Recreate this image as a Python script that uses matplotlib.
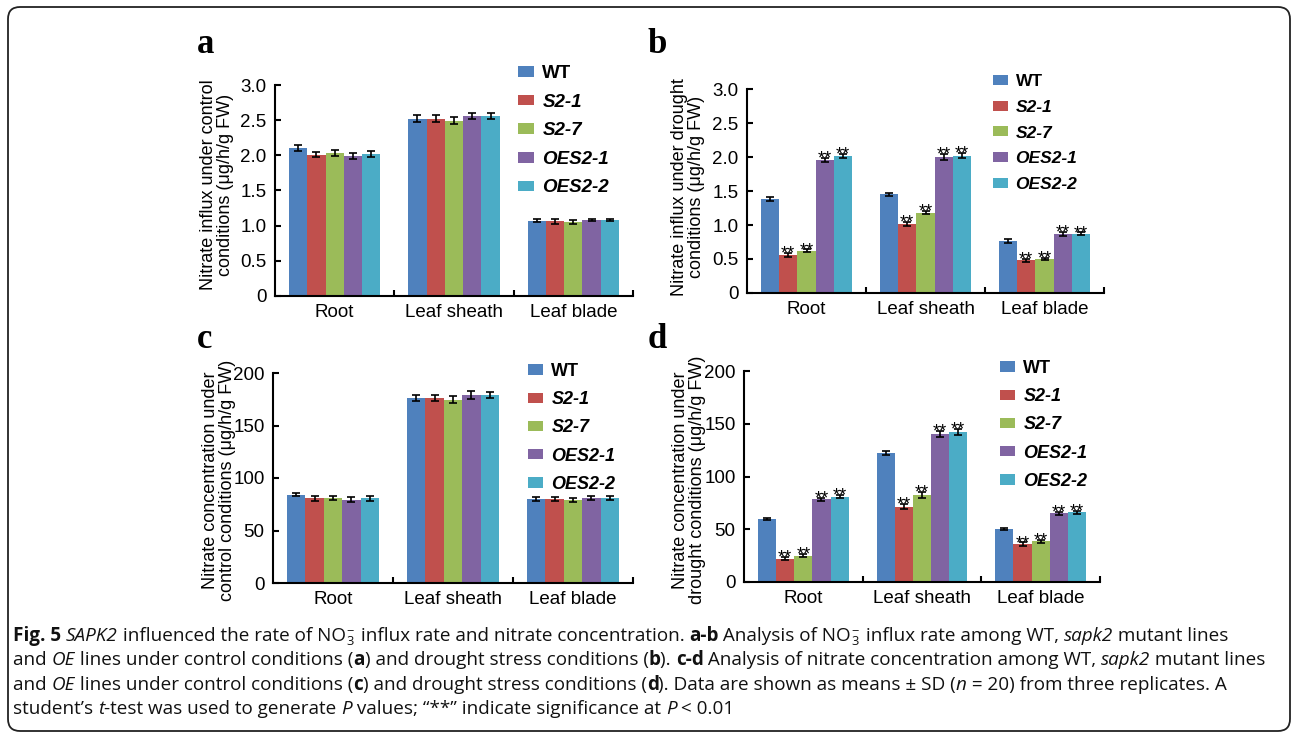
import numpy as np
import matplotlib
matplotlib.use('Agg')
import matplotlib.pyplot as plt
from matplotlib import patches, transforms
from matplotlib.ticker import FuncFormatter

plt.rcParams['font.family'] = ['Liberation Sans', 'DejaVu Sans']

# ---- data ----
tissues = ['Root', 'Leaf sheath', 'Leaf blade']
lines = ['WT', 'S2-1', 'S2-7', 'OES2-1', 'OES2-2']
bar_colors = ['#4F81BD', '#C0504D', '#9BBB59', '#8064A2', '#4BACC6']

# rows = lines, cols = tissues
influx_ctrl = [[2.10, 2.52, 1.07],
               [2.01, 2.52, 1.06],
               [2.03, 2.49, 1.05],
               [1.99, 2.56, 1.08],
               [2.02, 2.56, 1.08]]
influx_ctrl_sd = [[0.04, 0.05, 0.02],
                  [0.04, 0.05, 0.03],
                  [0.04, 0.05, 0.03],
                  [0.04, 0.04, 0.02],
                  [0.04, 0.04, 0.02]]

influx_drought = [[1.38, 1.45, 0.77],
                  [0.56, 1.02, 0.48],
                  [0.62, 1.18, 0.50],
                  [1.96, 2.00, 0.87],
                  [2.02, 2.02, 0.87]]
influx_drought_sd = [[0.03, 0.02, 0.03],
                     [0.03, 0.03, 0.02],
                     [0.02, 0.02, 0.01],
                     [0.03, 0.04, 0.03],
                     [0.03, 0.04, 0.02]]

conc_ctrl = [[84, 176, 80],
             [80.5, 176, 80],
             [81, 174.5, 79],
             [79.5, 179, 81],
             [80.5, 179, 81]]
conc_ctrl_sd = [[1.5, 3, 1.5],
                [2, 3, 1.5],
                [2, 3.5, 2],
                [2, 3.5, 2],
                [2, 3, 2]]

conc_drought = [[59.5, 122.5, 50.5],
                [22, 71.5, 36],
                [25, 82.5, 38.5],
                [78.5, 140.5, 65],
                [81, 142, 66]]
conc_drought_sd = [[1, 2, 1],
                   [1.5, 2.5, 1.5],
                   [1.5, 2.5, 1.5],
                   [1.5, 3, 1.5],
                   [1.5, 3, 1.5]]

sig_none = [False] * 5
sig_mut = [False, True, True, True, True]

ylabels = ['Nitrate influx under control\nconditions (\u03bcg/h/g FW)',
           'Nitrate influx under drought\nconditions (\u03bcg/h/g FW)',
           'Nitrate concentration under\ncontrol conditions (\u03bcg/h/g FW)',
           'Nitrate concentration under\ndrought conditions (\u03bcg/h/g FW)']

# caption: (text, style) with style '' regular, 'b' bold, 'i' italic, 'ion' for the NO3- sub/sup
caption = [
    [('Fig. 5', 'b'), (' ', ''), ('SAPK2', 'i'), (' influenced the rate of NO', ''), ('', 'ion'),
     (' influx rate and nitrate concentration. ', ''), ('a-b', 'b'), (' Analysis of NO', ''), ('', 'ion'),
     (' influx rate among WT, ', ''), ('sapk2', 'i'), (' mutant lines', '')],
    [('and ', ''), ('OE', 'i'), (' lines under control conditions (', ''), ('a', 'b'),
     (') and drought stress conditions (', ''), ('b', 'b'), ('). ', ''), ('c-d', 'b'),
     (' Analysis of nitrate concentration among WT, ', ''), ('sapk2', 'i'), (' mutant lines', '')],
    [('and ', ''), ('OE', 'i'), (' lines under control conditions (', ''), ('c', 'b'),
     (') and drought stress conditions (', ''), ('d', 'b'), ('). Data are shown as means \u00b1 SD (', ''),
     ('n', 'i'), (' = 20) from three replicates. A', '')],
    [('student\u2019s ', ''), ('t', 'i'), ('-test was used to generate ', ''), ('P', 'i'),
     (' values; \u201c**\u201d indicate significance at ', ''), ('P', 'i'), (' < 0.01', '')],
]

W, H = 1292, 734
fig = plt.figure(figsize=(W / 100, H / 100), dpi=100)


def px_axes(left, top, right, bottom):
    return fig.add_axes([left / W, (H - bottom) / H, (right - left) / W, (bottom - top) / H])


def fmt(v, pos):
    if v == 0:
        return '0'
    if v < 10:
        return '%.1f' % v
    return '%d' % v


def draw_panel(ax, vals, sds, ymax, step, stars):
    n = len(lines)
    x = np.arange(len(tissues))
    w = 0.153
    for i in range(n):
        pos = x + (i - (n - 1) / 2) * w
        ax.bar(pos, vals[i], w, color=bar_colors[i], label=lines[i], yerr=sds[i],
               capsize=3, error_kw=dict(elinewidth=1.2, capthick=1.2, ecolor='black'), zorder=2)
        if stars[i]:
            for p, v, e in zip(pos, vals[i], sds[i]):
                ax.annotate('**', (p, v + e), xytext=(0, -4), textcoords='offset points',
                            ha='center', va='baseline', fontsize=13)
    ax.set_xlim(-0.5, 2.5)
    ax.set_ylim(0, ymax)
    ax.set_yticks(np.arange(0, ymax + step / 2, step))
    ax.yaxis.set_major_formatter(FuncFormatter(fmt))
    ax.set_xticks([0.5, 1.5, 2.5])
    ax.set_xticklabels([])
    ax.set_xticks(x, minor=True)
    ax.set_xticklabels(tissues, minor=True)
    ax.tick_params(axis='x', which='minor', length=0, pad=5.5, labelsize=13.5)
    ax.tick_params(axis='x', which='major', direction='in', length=4, width=1.5)
    ax.tick_params(axis='y', direction='in', length=4, width=1.5, pad=6, labelsize=13.5)
    for s in ['top', 'right']:
        ax.spines[s].set_visible(False)
    for s in ['left', 'bottom']:
        ax.spines[s].set_linewidth(1.5)
    ax.set_facecolor('none')


panels = [
    (px_axes(275, 85, 633, 296), influx_ctrl, influx_ctrl_sd, 3.0, 0.5, sig_none),
    (px_axes(747, 89, 1104, 293), influx_drought, influx_drought_sd, 3.0, 0.5, sig_mut),
    (px_axes(273, 373, 633, 583), conc_ctrl, conc_ctrl_sd, 200, 50, sig_none),
    (px_axes(744, 371, 1100, 582), conc_drought, conc_drought_sd, 200, 50, sig_mut),
]
legend_pos = [(518, 65), (993, 74), (528, 363), (1000, 360)]
legend_size = [13.5, 12.5, 13, 13]
ylabel_pos = [(217, 185), (688, 187), (219, 480), (689, 480)]
letter_pos = [(197, 53, 'a'), (648, 53, 'b'), (197, 348, 'c'), (648, 348, 'd')]

for k, (ax, vals, sds, ymax, step, stars) in enumerate(panels):
    draw_panel(ax, vals, sds, ymax, step, stars)
    lx, ly = legend_pos[k]
    leg = ax.legend(loc='upper left', bbox_to_anchor=(lx / W, 1 - ly / H),
                    bbox_transform=fig.transFigure, frameon=False, borderpad=0,
                    borderaxespad=0, handlelength=0.85, handleheight=0.5,
                    handletextpad=0.45, labelspacing=0.62,
                    prop=dict(size=legend_size[k], weight='bold'))
    for t in leg.get_texts()[1:]:
        t.set_style('italic')
    yx, yy = ylabel_pos[k]
    fig.text(yx / W, 1 - yy / H, ylabels[k], rotation=90, ha='center', va='center',
             multialignment='center', fontsize=13, linespacing=1.05)
    bx, by, letter = letter_pos[k]
    fig.text(bx / W, 1 - by / H, letter, family=['Liberation Serif', 'DejaVu Serif'],
             fontweight='bold', fontsize=25, va='baseline', ha='left')

# caption, drawn piece by piece in pixel coordinates
renderer = fig.canvas.get_renderer()
px = transforms.IdentityTransform()
cap_fs = 13.6
cap_font = ['Open Sans', 'DejaVu Sans']


def text_w(s, size, weight='normal', style='normal'):
    t = fig.text(0, 0, s, family=cap_font, fontsize=size, fontweight=weight, fontstyle=style,
                 transform=px)
    w = t.get_window_extent(renderer).width
    t.remove()
    return w


def advance(s, size=cap_fs, weight='normal', style='normal'):
    # pen advance of s, bracketed by a reference glyph so bearings and spaces count
    return text_w('x' + s + 'x', size, weight, style) - text_w('xx', size, weight, style)


def put(x, y, s, size=cap_fs, weight='normal', style='normal'):
    fig.text(x, y, s, family=cap_font, fontsize=size, fontweight=weight, fontstyle=style,
             va='baseline', ha='left', color='#111111', transform=px)
    return advance(s, size, weight, style)


for i, segs in enumerate(caption):
    x = 13
    y = H - (641 + 24.3 * i)
    for s, st in segs:
        if st == 'ion':
            put(x + 0.5, y - 4, '3', size=cap_fs * 0.68)
            put(x + 0.5, y + 7, '\u2212', size=cap_fs * 0.68)
            x += advance('\u2212', size=cap_fs * 0.68) + 2.5
            continue
        weight = 'bold' if st == 'b' else 'normal'
        style = 'italic' if st == 'i' else 'normal'
        x += put(x, y, s, weight=weight, style=style)

border = patches.FancyBboxPatch((8, 3), 1282, 724, boxstyle='round,pad=0,rounding_size=12',
                                transform=px, fill=False, ec='#222222', lw=1.3)
fig.add_artist(border)

fig.savefig('out.png', dpi=100, facecolor='white')
